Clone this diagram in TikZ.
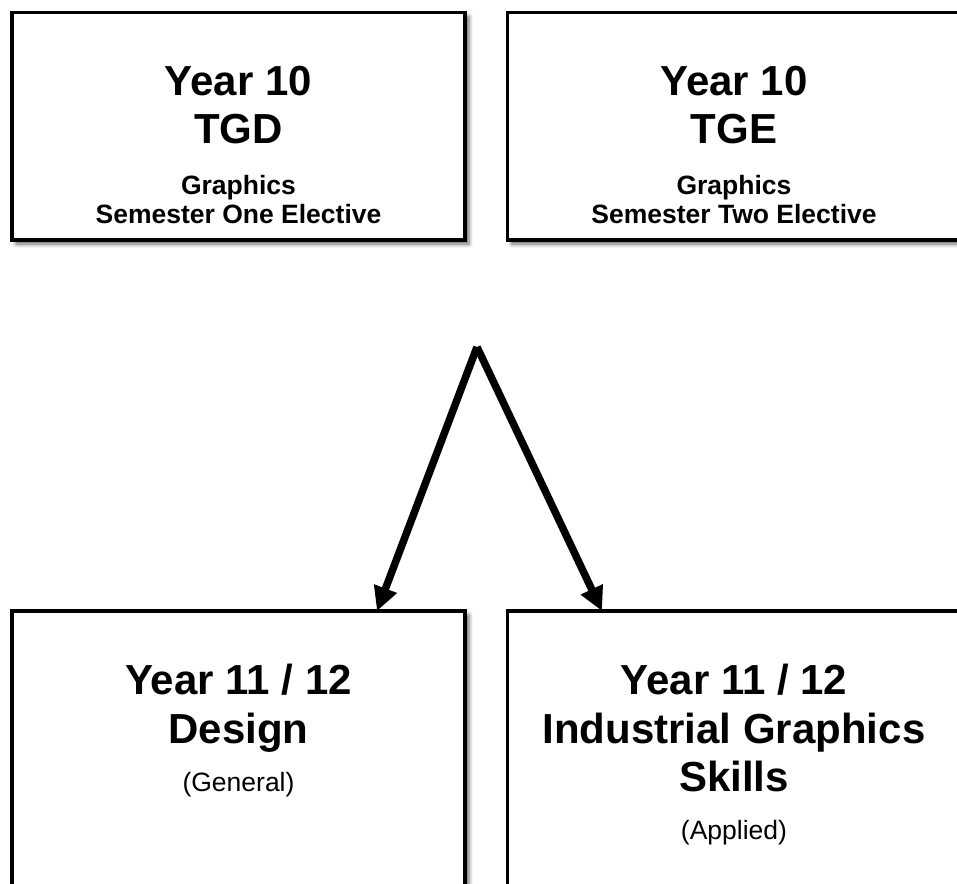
\documentclass[tikz,border=0pt]{standalone}
\usepackage{fontspec}
\setmainfont{Liberation Sans}
\usetikzlibrary{positioning,arrows.meta,shadows.blur}
\newcommand{\hdfont}{\fontsize{42}{48.5}\selectfont\bfseries}
\newcommand{\sbfont}{\fontsize{26.5}{29}\selectfont}
\begin{document}
\begin{tikzpicture}[x=1pt, y=-1pt,
        box/.style={draw, line width=3.5pt, fill=white, minimum width=453pt, inner sep=0pt, outer sep=0pt,
            blur shadow={shadow xshift=4pt, shadow yshift=-4pt, shadow blur radius=4pt, shadow opacity=60}},
        top box/.style={box, minimum height=227.5pt},
        low box/.style={box, minimum height=290pt},
        txt/.style={text width=440pt, align=flush center, inner sep=0pt},
        flow/.style={line width=7.5pt, -{Triangle[length=24pt, width=23pt]}}]
    \useasboundingbox (0,0) rectangle (957,883);
    % year 10 electives
    \node[top box] (tgd) at (238.5,126.25) {};
    \node[top box] (tge) at (734,126.25) {};
    \node[txt, below=53pt of tgd.north] (tgdText) {\hdfont Year 10\\TGD\par\vspace{22pt}\sbfont\bfseries Graphics\\Semester One Elective\par};
    \node[txt, below=53pt of tge.north] (tgeText) {\hdfont Year 10\\TGE\par\vspace{22pt}\sbfont\bfseries Graphics\\Semester Two Elective\par};
    % year 11 / 12 courses
    \node[low box] (design) at (238.5,756) {};
    \node[low box] (igs) at (734,756) {};
    \node[txt, below=53pt of design.north] (designText) {\hdfont Year 11 / 12\\Design\par\vspace{19pt}\sbfont\mdseries (General)\par};
    \node[txt, below=53pt of igs.north] (igsText) {\hdfont Year 11 / 12\\Industrial Graphics\\Skills\par\vspace{19pt}\sbfont\mdseries (Applied)\par};
    % pathways
    \coordinate (split) at (477,347);
    \coordinate (designIn) at ([xshift=138.5pt]design.north);
    \coordinate (igsIn) at ([xshift=-132pt]igs.north);
    \draw[flow] (split) -- (designIn);
    \draw[flow] (split) -- (igsIn);
\end{tikzpicture}
\end{document}
